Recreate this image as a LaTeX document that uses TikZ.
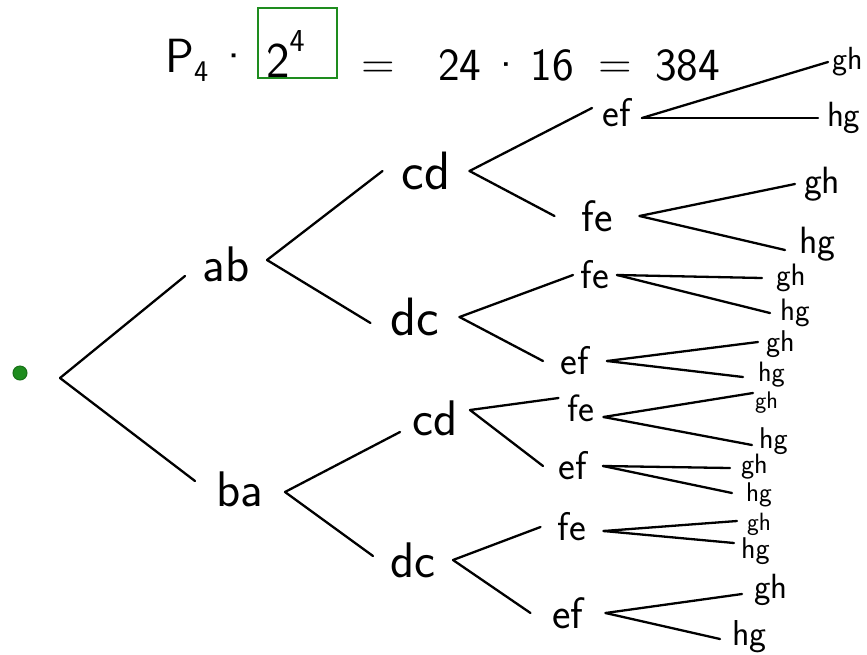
\documentclass[tikz,border=0pt]{standalone}
\usepackage{fontspec}
\definecolor{hgreen}{RGB}{30,140,30}
\begin{document}
\begin{tikzpicture}[x=1pt,y=-1pt,
  lab/.style={font=\sffamily\fontsize{#1}{#1}\selectfont, inner sep=0pt, outer sep=0pt},
  leaf/.style 2 args={lab=#1, anchor=west, inner xsep=#2pt},
  br/.style={line width=2.3pt, line cap=round},
  ttl/.style={font=\sffamily\fontsize{46}{46}\selectfont, inner sep=0pt, anchor=base west}]
\useasboundingbox (0,0) rectangle (867,654);
% title
\node[ttl, font=\sffamily\fontsize{48}{48}\selectfont] (tp) at (165,72) {P\raisebox{-9pt}{\fontsize{30}{30}\selectfont 4}\,·};
\node[draw=hgreen, line width=1.3pt, minimum width=79pt, minimum height=70pt, inner sep=0pt] (box) at (297.5,43) {};
\node[ttl, font=\sffamily\fontsize{50}{50}\selectfont] (two) at (266,77) {2\raisebox{26pt}{\fontsize{32}{32}\selectfont 4}};
\node[ttl] (eqa) at (361,78) {=};
\node[ttl] (prod) at (438,80) {24\,·\,16};
\node[ttl] (eqb) at (598,78) {=};
\node[ttl] (res) at (655,80) {384};
% root
\node[circle, fill=hgreen, draw=hgreen!80!black, line width=1pt, minimum size=14pt, inner sep=0pt] (o) at (20,373) {};
\coordinate (r) at (60,378);
% level 1
\node[lab=50, minimum width=82pt] (ab) at (226,264) {ab};
\node[lab=50, minimum width=90pt] (ba) at (240,489) {ba};
% level 2
\node[lab=54, minimum width=87pt] (cdT) at (426,171) {cd};
\node[lab=54, minimum width=89pt] (dcT) at (415,317) {dc};
\node[lab=50, minimum width=70pt] (cdB) at (435,418) {cd};
\node[lab=50, minimum width=80pt] (dcB) at (413,560) {dc};
% level 3
\node[lab=40, minimum width=50pt] (ef1) at (617,113) {ef};
\node[lab=44, minimum width=85pt] (fe2) at (597,216) {fe};
\node[lab=40, minimum width=44pt] (fe3) at (595,275) {fe};
\node[lab=40, minimum width=64pt] (ef4) at (575,361) {ef};
\node[lab=38, minimum width=45pt] (fe5) at (581,408) {fe};
\node[lab=40, minimum width=60pt] (ef6) at (573,466) {ef};
\node[lab=40, minimum width=63pt] (fe7) at (572,527) {fe};
\node[lab=44, minimum width=75pt] (ef8) at (568,613) {ef};
% leaves
\node[leaf={32}{4}] (gh1) at (828,62) {gh};
\node[leaf={35}{9}] (hg1) at (818,118) {hg};
\node[leaf={38}{9}] (gh2) at (795,184) {gh};
\node[leaf={38}{14}] (hg2) at (785,244) {hg};
\node[leaf={31}{14}] (gh3) at (762,278) {gh};
\node[leaf={31}{10}] (hg3) at (770,313) {hg};
\node[leaf={30}{8}] (gh4) at (758,344) {gh};
\node[leaf={28}{15}] (hg4) at (743,375) {hg};
\node[leaf={24}{2}] (gh5) at (753,403) {gh};
\node[leaf={30}{7}] (hg5) at (752,441) {hg};
\node[leaf={28}{11}] (gh6) at (730,467) {gh};
\node[leaf={27}{14}] (hg6) at (732,495) {hg};
\node[leaf={25}{10}] (gh7) at (737,524) {gh};
\node[leaf={30}{7}] (hg7) at (734,551) {hg};
\node[leaf={35}{12}] (gh8) at (742,590) {gh};
\node[leaf={36}{12}] (hg8) at (720,637) {hg};
% branches
\draw[br] (r) -- ([yshift=-12pt]ab.west);
\draw[br] (r) -- ([yshift=8pt]ba.west);
\draw[br] ([yshift=4pt]ab.east) -- (cdT.west);
\draw[br] ([yshift=4pt]ab.east) -- ([yshift=-6pt]dcT.west);
\draw[br] ([yshift=-3pt]ba.east) -- ([yshift=-14pt]cdB.west);
\draw[br] ([yshift=-3pt]ba.east) -- ([yshift=4pt]dcB.west);
\draw[br] (cdT.east) -- ([yshift=5pt]ef1.west);
\draw[br] (cdT.east) -- (fe2.west);
\draw[br] (dcT.east) -- (fe3.west);
\draw[br] (dcT.east) -- (ef4.west);
\draw[br] ([yshift=8pt]cdB.east) -- ([yshift=10pt]fe5.west);
\draw[br] ([yshift=8pt]cdB.east) -- (ef6.west);
\draw[br] (dcB.east) -- (fe7.west);
\draw[br] (dcB.east) -- (ef8.west);
\draw[br] ([yshift=-5pt]ef1.east) -- ([yshift=0pt]gh1.west);
\draw[br] ([yshift=-5pt]ef1.east) -- (hg1.west);
\draw[br] (fe2.east) -- (gh2.west);
\draw[br] (fe2.east) -- ([yshift=-6pt]hg2.west);
\draw[br] (fe3.east) -- (gh3.west);
\draw[br] (fe3.east) -- (hg3.west);
\draw[br] (ef4.east) -- ([yshift=2pt]gh4.west);
\draw[br] (ef4.east) -- ([yshift=-2pt]hg4.west);
\draw[br] ([yshift=-9pt]fe5.east) -- ([yshift=10pt]gh5.west);
\draw[br] ([yshift=-9pt]fe5.east) -- ([yshift=-4pt]hg5.west);
\draw[br] (ef6.east) -- ([yshift=-1pt]gh6.west);
\draw[br] (ef6.east) -- ([yshift=2pt]hg6.west);
\draw[br] ([yshift=-4pt]fe7.east) -- ([yshift=3pt]gh7.west);
\draw[br] ([yshift=-4pt]fe7.east) -- ([yshift=8pt]hg7.west);
\draw[br] (ef8.east) -- ([yshift=-4pt]gh8.west);
\draw[br] (ef8.east) -- ([yshift=-2pt]hg8.west);
\end{tikzpicture}
\end{document}
